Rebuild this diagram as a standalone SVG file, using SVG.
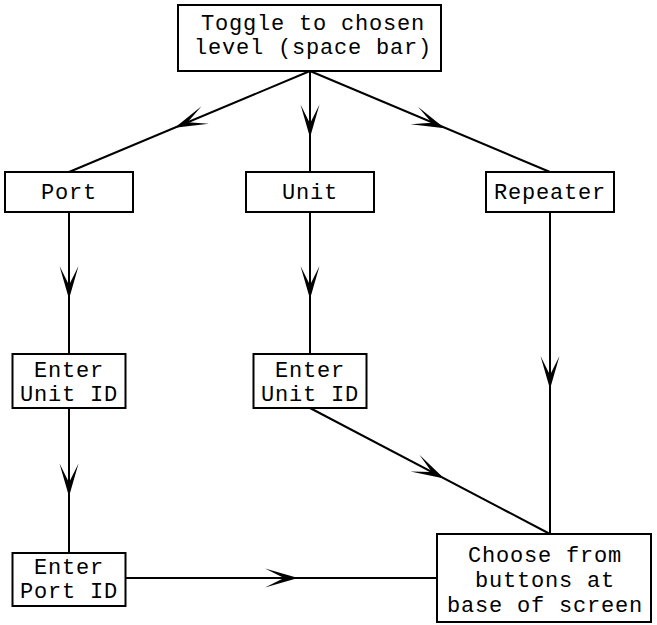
<svg xmlns="http://www.w3.org/2000/svg" width="657" height="625" viewBox="0 0 657 625">
<style>
  rect.box { fill: #fff; stroke: #000; stroke-width: 2; }
  text { font-family: "Liberation Mono", "DejaVu Sans Mono", monospace; font-size: 22px; letter-spacing: 0.8px; fill: #000; text-anchor: middle; }
  line.c { stroke: #000; stroke-width: 2; }
  .ah { fill: #000; }
</style>
<defs>
  <path id="arr" class="ah" d="M0,0 L-33,-9.5 L-14,0 L-33,9.5 Z"/>
</defs>
<rect width="657" height="625" fill="#fff"/>
<g id="connectors">
  <line class="c" x1="310" y1="71" x2="69" y2="172"/>
  <line class="c" x1="310" y1="71" x2="310" y2="172"/>
  <line class="c" x1="310" y1="71" x2="550" y2="172"/>
  <line class="c" x1="69" y1="212" x2="69" y2="354"/>
  <line class="c" x1="69" y1="408" x2="69" y2="553"/>
  <line class="c" x1="310" y1="212" x2="310" y2="354"/>
  <line class="c" x1="310" y1="408" x2="550" y2="534"/>
  <line class="c" x1="550" y1="212" x2="550" y2="534"/>
  <line class="c" x1="126" y1="578" x2="437" y2="578"/>
  <use href="#arr" transform="translate(174.7,127.7) rotate(157.3)"/>
  <use href="#arr" transform="translate(310,137.5) rotate(90)"/>
  <use href="#arr" transform="translate(444.7,128.2) rotate(22.8)"/>
  <use href="#arr" transform="translate(69,299) rotate(90)"/>
  <use href="#arr" transform="translate(69,496.5) rotate(90)"/>
  <use href="#arr" transform="translate(310,299) rotate(90)"/>
  <use href="#arr" transform="translate(444.2,478.4) rotate(27.7)"/>
  <use href="#arr" transform="translate(550,389) rotate(90)"/>
  <use href="#arr" transform="translate(298,578)"/>
</g>
<g id="toggle">
  <rect class="box" x="178" y="5" width="263" height="66"/>
  <text x="313" y="30">Toggle to chosen</text>
  <text x="313" y="54">level (space bar)</text>
</g>
<g id="port">
  <rect class="box" x="5" y="172" width="128" height="40"/>
  <text x="69" y="199">Port</text>
</g>
<g id="unit">
  <rect class="box" x="246" y="172" width="128" height="40"/>
  <text x="310" y="199">Unit</text>
</g>
<g id="repeater">
  <rect class="box" x="486" y="172" width="128" height="40"/>
  <text x="550" y="199">Repeater</text>
</g>
<g id="enter-unit-id-left">
  <rect class="box" x="12.5" y="354" width="113" height="54"/>
  <text x="69" y="377">Enter</text>
  <text x="69" y="401">Unit ID</text>
</g>
<g id="enter-unit-id-mid">
  <rect class="box" x="253.5" y="354" width="113" height="54"/>
  <text x="310" y="377">Enter</text>
  <text x="310" y="401">Unit ID</text>
</g>
<g id="enter-port-id">
  <rect class="box" x="12.5" y="553" width="113" height="53"/>
  <text x="69" y="574">Enter</text>
  <text x="69" y="598">Port ID</text>
</g>
<g id="choose">
  <rect class="box" x="437" y="534" width="214" height="88"/>
  <text x="545" y="562">Choose from</text>
  <text x="545" y="587">buttons at</text>
  <text x="545" y="612">base of screen</text>
</g>
</svg>
